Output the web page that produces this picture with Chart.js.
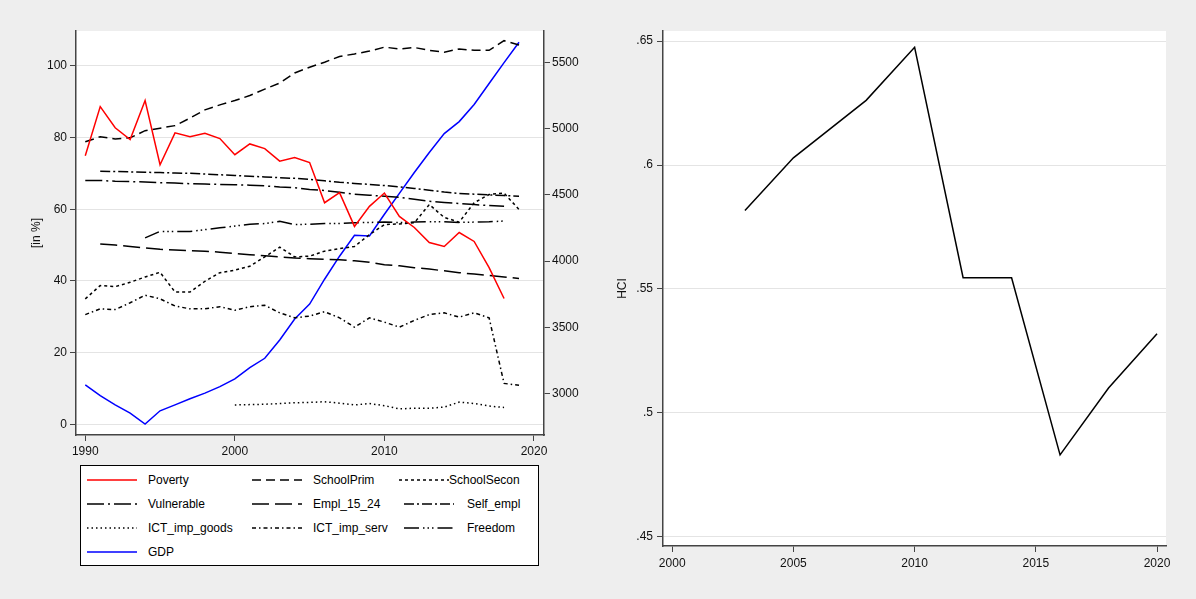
<!DOCTYPE html>
<html>
<head>
<meta charset="utf-8">
<script src="https://cdn.jsdelivr.net/npm/chart.js@4.4.0/dist/chart.umd.min.js"></script>
<style>
  html, body { margin: 0; padding: 0; background: #eeeeee; }
  body { width: 1196px; height: 599px; position: relative; overflow: hidden; font-family: "Liberation Sans", Arial, sans-serif; }
  #leftChart { position: absolute; left: 0; top: 0; }
  #rightChart { position: absolute; left: 600px; top: 0; }
  #legend { position: absolute; left: 80px; top: 465px; width: 457px; height: 99px; background: #fff; border: 1px solid #000; }
  .key { position: absolute; height: 14px; }
  .key svg { position: absolute; top: 0; }
  .key span { position: absolute; top: 0; font-size: 12px; line-height: 14px; color: #000; white-space: nowrap; }
</style>
</head>
<body>
<canvas id="leftChart" width="598" height="460"></canvas>
<canvas id="rightChart" width="596" height="580"></canvas>
<div id="legend"></div>
<script>
// ---- data (left panel) ----
const years = [1990, 1991, 1992, 1993, 1994, 1995, 1996, 1997, 1998, 1999,
               2000, 2001, 2002, 2003, 2004, 2005, 2006, 2007, 2008, 2009,
               2010, 2011, 2012, 2013, 2014, 2015, 2016, 2017, 2018, 2019];

const poverty = [74.9, 88.6, 82.7, 79.4, 90.3, 72.4, 81.3, 80.2, 81.2, 79.7,
                 75.2, 78.2, 76.9, 73.4, 74.4, 73.0, 61.8, 64.6, 55.2, 60.8,
                 64.5, 58.0, 54.9, 50.7, 49.6, 53.5, 51.0, 43.7, 35.1, null];
const schoolPrim = [78.8, 80.2, 79.6, 79.9, 81.9, 82.6, 83.3, 85.4, 87.7, 89.1,
                    90.3, 91.7, 93.5, 95.2, 98.0, 99.6, 101.0, 102.6, 103.3, 104.1,
                    105.2, 104.7, 105.1, 104.3, 103.8, 104.7, 104.3, 104.3, 107.0, 105.8];
const schoolSecon = [35.0, 38.7, 38.4, 39.6, 41.1, 42.4, 36.9, 36.9, 39.9, 42.3,
                     43.0, 44.1, 46.7, 49.4, 46.7, 46.9, 48.3, 49.0, 49.6, 52.9,
                     55.7, 55.9, 56.2, 61.3, 57.7, 56.4, 61.8, 64.1, 64.5, 59.9];
const vulnerable = [68.0, 68.0, 67.8, 67.7, 67.6, 67.4, 67.3, 67.1, 67.0, 66.9,
                    66.8, 66.7, 66.5, 66.2, 66.0, 65.5, 65.2, 64.7, 64.2, 63.9,
                    63.6, 63.3, 62.8, 62.2, 61.9, 61.6, 61.3, 61.0, 60.8, null];
const empl1524 = [null, 50.3, 50.0, 49.6, 49.2, 48.8, 48.6, 48.4, 48.3, 48.0,
                  47.6, 47.3, 47.0, 46.7, 46.4, 46.2, 46.0, 45.9, 45.6, 45.2,
                  44.5, 44.2, 43.7, 43.3, 42.8, 42.3, 41.9, 41.5, 41.1, 40.7];
const selfEmpl = [null, 70.6, 70.5, 70.4, 70.3, 70.2, 70.1, 70.0, 69.8, 69.6,
                  69.4, 69.2, 69.0, 68.8, 68.6, 68.3, 67.9, 67.5, 67.2, 66.9,
                  66.6, 66.2, 65.8, 65.3, 64.8, 64.4, 64.2, 64.0, 63.8, 63.6];
const ictGoods = [null, null, null, null, null, null, null, null, null, null,
                  5.4, 5.5, 5.6, 5.8, 6.0, 6.1, 6.3, 5.9, 5.4, 5.8,
                  5.2, 4.3, 4.5, 4.5, 4.8, 6.2, 5.8, 5.1, 4.7, null];
const ictServ = [30.6, 32.2, 32.0, 33.9, 36.0, 35.0, 33.0, 32.2, 32.2, 32.8,
                 31.8, 32.8, 33.2, 31.1, 29.7, 30.2, 31.4, 29.7, 27.1, 29.7,
                 28.5, 27.1, 29.0, 30.6, 31.1, 29.9, 31.1, 29.7, 11.4, 10.9];
const freedom = [null, null, null, null, 52.0, 53.8, 53.8, 53.8, 54.3, 54.8,
                 55.3, 55.8, 56.0, 56.6, 55.7, 55.8, 56.0, 56.0, 56.2, 56.3,
                 56.4, 56.3, 56.4, 56.5, 56.5, 56.3, 56.4, 56.5, 56.7, null];
const gdp = [3064, 2983, 2913, 2851, 2768, 2868, 2913, 2959, 3002, 3051,
             3109, 3195, 3265, 3403, 3562, 3675, 3863, 4037, 4195, 4190,
             4354, 4512, 4670, 4821, 4964, 5055, 5184, 5343, 5501, 5655];

const pctTicks = [0, 20, 40, 60, 80, 100];
const gdpTicks = [3000, 3500, 4000, 4500, 5000, 5500];
const yearTicks = [1990, 2000, 2010, 2020];

// ---- data (right panel) ----
const hciYears = [2003, 2005, 2008, 2010, 2012, 2014, 2016, 2018, 2020];
const hci = [0.5816, 0.6029, 0.6261, 0.6475, 0.5545, 0.5545, 0.4830, 0.5100, 0.5319];
const hciTicks = [0.45, 0.5, 0.55, 0.6, 0.65];
const hciTickLabels = ['.45', '.5', '.55', '.6', '.65'];
const hciYearTicks = [2000, 2005, 2010, 2015, 2020];

// ---- series styling ----
const seriesNames = ['Poverty', 'SchoolPrim', 'SchoolSecon', 'Vulnerable', 'Empl_15_24',
                     'Self_empl', 'ICT_imp_goods', 'ICT_imp_serv', 'Freedom', 'GDP'];
const seriesValues = [poverty, schoolPrim, schoolSecon, vulnerable, empl1524,
                      selfEmpl, ictGoods, ictServ, freedom, gdp];
const seriesColors = ['#ff0000', '#000', '#000', '#000', '#000', '#000', '#000', '#000', '#000', '#0000ff'];
const seriesDash = [[], [9, 5], [3, 3], [17, 4, 2, 4], [17, 6],
                    [10, 3, 2, 3], [1.5, 3], [4, 3, 1.5, 3], [15, 4, 1.5, 3, 1.5, 3, 1.5, 4], []];
const seriesAxis = ['y', 'y', 'y', 'y', 'y', 'y', 'y', 'y', 'y', 'y1'];

const FONT = "'Liberation Sans', Arial, sans-serif";
const AXIS = '#444';
const GRID = '#e4e4e4';

// white plot region
const plotBg = {
    id: 'plotBg',
    beforeDraw(chart) {
        const { ctx, chartArea: a } = chart;
        ctx.save();
        ctx.fillStyle = '#fff';
        ctx.fillRect(a.left, a.top, a.right - a.left, a.bottom - a.top);
        ctx.restore();
    }
};

function fixedTicks(values) {
    return scale => { scale.ticks = values.map(v => ({ value: v })); };
}

/**
 * Left panel: indicators (%) and GDP on second axis
 */
function renderLeftChart() {
    const datasets = seriesNames.map((name, i) => ({
        label: name,
        data: years.map((yr, j) => ({ x: yr, y: seriesValues[i][j] })),
        borderColor: seriesColors[i],
        borderDash: seriesDash[i],
        borderWidth: 1.5,
        pointRadius: 0,
        tension: 0,
        fill: false,
        yAxisID: seriesAxis[i]
    }));

    new Chart(document.getElementById('leftChart'), {
        type: 'line',
        data: { datasets: datasets },
        options: {
            responsive: false,
            animation: false,
            events: [],
            layout: { autoPadding: false, padding: { top: 31, left: 0, right: 0, bottom: 0 } },
            plugins: { legend: { display: false }, tooltip: { enabled: false } },
            scales: {
                x: {
                    type: 'linear',
                    min: 1989.38,
                    max: 2020.67,
                    afterBuildTicks: fixedTicks(yearTicks),
                    afterFit: s => { s.height = 25; },
                    border: { color: AXIS, width: 1.5 },
                    grid: { drawOnChartArea: false, tickLength: 6, tickColor: AXIS },
                    ticks: { font: { family: FONT, size: 12 }, color: '#111', padding: 3, maxRotation: 0, callback: v => String(v) }
                },
                y: {
                    position: 'left',
                    min: -2.98,
                    max: 109.7,
                    afterBuildTicks: fixedTicks(pctTicks),
                    afterFit: s => { s.width = 76; },
                    border: { color: AXIS, width: 1.5 },
                    grid: { color: GRID, tickLength: 6, tickColor: AXIS },
                    ticks: { font: { family: FONT, size: 12 }, color: '#111', padding: 3, callback: v => String(v) },
                    title: { display: true, text: '[in %]', font: { family: FONT, size: 12 }, color: '#111', padding: { top: 29 } }
                },
                y1: {
                    position: 'right',
                    min: 2685,
                    max: 5740,
                    afterBuildTicks: fixedTicks(gdpTicks),
                    afterFit: s => { s.width = 54; },
                    border: { color: AXIS, width: 1.5 },
                    grid: { drawOnChartArea: false, tickLength: 6, tickColor: AXIS },
                    ticks: { font: { family: FONT, size: 12 }, color: '#111', padding: 2, callback: v => String(v) }
                }
            }
        },
        plugins: [plotBg]
    });
}

/**
 * Right panel: HCI over time
 */
function renderRightChart() {
    new Chart(document.getElementById('rightChart'), {
        type: 'line',
        data: {
            datasets: [{
                label: 'HCI',
                data: hciYears.map((yr, i) => ({ x: yr, y: hci[i] })),
                borderColor: '#000',
                borderWidth: 1.5,
                pointRadius: 0,
                tension: 0,
                fill: false
            }]
        },
        options: {
            responsive: false,
            animation: false,
            events: [],
            layout: { autoPadding: false, padding: { top: 31, left: 0, right: 30, bottom: 0 } },
            plugins: { legend: { display: false }, tooltip: { enabled: false } },
            scales: {
                x: {
                    type: 'linear',
                    min: 1999.62,
                    max: 2020.37,
                    afterBuildTicks: fixedTicks(hciYearTicks),
                    afterFit: s => { s.height = 34; },
                    border: { color: AXIS, width: 1.5 },
                    grid: { drawOnChartArea: false, tickLength: 6, tickColor: AXIS },
                    ticks: { font: { family: FONT, size: 12 }, color: '#111', padding: 4, maxRotation: 0, callback: v => String(v) }
                },
                y: {
                    min: 0.4462,
                    max: 0.6541,
                    afterBuildTicks: fixedTicks(hciTicks),
                    afterFit: s => { s.width = 63; },
                    border: { color: AXIS, width: 1.5 },
                    grid: { color: GRID, tickLength: 6, tickColor: AXIS },
                    ticks: {
                        font: { family: FONT, size: 12 }, color: '#111', padding: 4,
                        callback: v => hciTickLabels[hciTicks.findIndex(t => Math.abs(t - v) < 1e-9)]
                    },
                    title: { display: true, text: 'HCI', font: { family: FONT, size: 12 }, color: '#111', padding: { top: 15 } }
                }
            }
        },
        plugins: [plotBg]
    });
}

/**
 * Boxed legend below the left panel
 */
function renderLegend() {
    const box = document.getElementById('legend');
    const colKey = [6, 171, 323];
    const colText = [67, 232, 386];
    const rowTop = [7, 31, 55, 79];
    seriesNames.forEach((name, i) => {
        const col = i % 3, row = Math.floor(i / 3);
        const textX = (name === 'SchoolSecon') ? 368 : colText[col];
        const keyX = (name === 'SchoolSecon') ? 318 : colKey[col];
        const item = document.createElement('div');
        item.className = 'key';
        item.style.left = '0px';
        item.style.top = rowTop[row] + 'px';
        item.innerHTML =
            '<svg width="50" height="14" style="left:' + keyX + 'px">' +
            '<line x1="0" y1="7" x2="50" y2="7" stroke="' + seriesColors[i] + '" stroke-width="1.5"' +
            (seriesDash[i].length ? ' stroke-dasharray="' + seriesDash[i].join(' ') + '"' : '') + '/></svg>' +
            '<span style="left:' + textX + 'px">' + name + '</span>';
        box.appendChild(item);
    });
}

renderLeftChart();
renderRightChart();
renderLegend();
</script>
</body>
</html>
